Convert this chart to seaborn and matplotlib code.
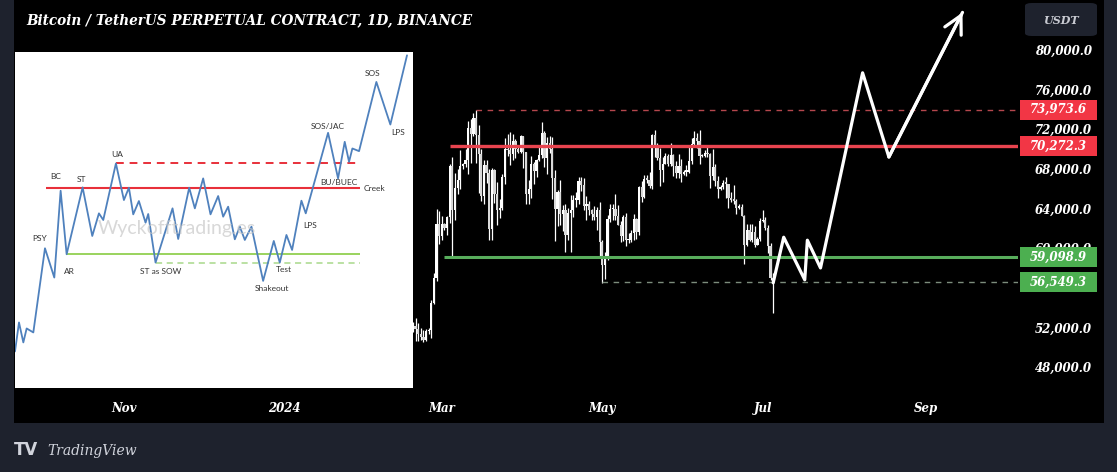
import pandas as pd
import numpy as np
import seaborn as sns
import matplotlib.pyplot as plt
import matplotlib.transforms as mtransforms
from matplotlib.patches import Rectangle, FancyBboxPatch

# BTC/USDT daily candles visible right of the inset, 2024-02-19 .. 2024-07-05
candle_start = '2024-02-19'
first_open = 51800
closes = [52100, 51800, 51300, 51000, 50700, 51600, 51700, 54500, 57000, 62400, 61200,
          62400, 62000, 63100, 68300, 63800, 66100, 66900, 68300, 68500, 68900, 72100,
          71500, 73100, 71400, 69500, 65300, 68400, 67600, 61900, 67900, 65500, 63800,
          64100, 67200, 70000, 69900, 69500, 70800, 70000, 69700, 71300,
          69700, 65500, 66000, 68500, 67800, 68900, 69400, 71600, 69100, 70600, 70000,
          67100, 63900, 65700, 63400, 63800, 61300, 63500, 63800, 64900, 64900, 66800,
          66400, 64300, 64500, 63800, 63400, 63100, 63800, 60600,
          58300, 59100, 62900, 63900, 64000, 63200, 62300, 61200, 63100, 60800, 60800,
          61500, 62900, 61600, 66200, 65200, 67000, 66900, 66300, 71400, 70100, 69100,
          67900, 68500, 69300, 68500, 69400, 68300, 67600, 68300, 67500,
          67700, 67700, 68800, 70500, 71100, 70800, 69300, 69300, 69600, 69500, 67300,
          68200, 66800, 66000, 66200, 66600, 66500, 65100, 64900, 64800, 64100, 64200,
          63200, 60300, 61800, 60800, 61600, 60300, 60900, 62700,
          62800, 62000, 60200, 57000, 56700]
highs = [52500, 52950, 52400, 51900, 51700, 51800, 51900, 54800, 57500, 64000, 63700,
         63200, 62500, 63200, 68500, 69200, 67600, 68000, 69900, 68600, 70000, 72800,
         73000, 73600, 73900, 72400, 70000, 68900, 68900, 68000, 68100, 68000, 66700,
         65000, 67500, 71100, 71500, 71700, 71500, 71000, 70300, 71400,
         71300, 69700, 66900, 69300, 68700, 69000, 70300, 72700, 71800, 71200, 71300,
         71200, 67900, 65900, 66900, 64400, 64500, 64100, 65400, 65400, 65700, 67200,
         67200, 67100, 65300, 64800, 64000, 64300, 64200, 64700,
         60800, 59600, 63300, 64500, 64500, 65500, 64400, 62700, 63300, 63500, 61500,
         61800, 63400, 63000, 66300, 66800, 67400, 67400, 67700, 71500, 71900, 70600,
         70100, 69200, 69600, 69500, 70600, 69500, 68800, 69500, 69000,
         67900, 68400, 70200, 71100, 71800, 71600, 71900, 69500, 69900, 70200, 69600,
         70000, 68500, 67300, 66400, 66900, 67200, 66500, 65700, 66400, 65000, 64500,
         64500, 63300, 62400, 62400, 62400, 62200, 61100, 63000,
         63800, 63100, 62300, 60500, 57500]
lows = [51500, 50600, 50600, 50700, 50500, 50600, 51300, 50900, 54400, 56700, 60400,
        60800, 61800, 61300, 62500, 59000, 62800, 65500, 66000, 68000, 68200, 67500,
        68600, 71300, 68600, 65600, 64800, 64500, 66600, 60800, 60800, 64600, 62300,
        63000, 63800, 66500, 69300, 68400, 68900, 69100, 69600, 69600,
        68100, 64500, 64500, 65100, 66500, 67200, 68800, 69100, 68200, 67500, 69600,
        65000, 60700, 62200, 62300, 61700, 59600, 60800, 59600, 63100, 64200, 64500,
        65800, 63800, 62800, 63300, 62800, 62800, 61800, 59200,
        56500, 56900, 58800, 62600, 62800, 62800, 62300, 60600, 60700, 60200, 60500,
        60600, 60800, 60900, 61300, 64700, 65100, 66600, 66100, 66000, 69200, 68900,
        66300, 66700, 68500, 68300, 68300, 67300, 67100, 67100, 66700,
        67400, 67300, 67600, 68500, 70400, 70100, 68500, 69200, 69200, 69200, 66100,
        66900, 66300, 65100, 65900, 66000, 65100, 64100, 64700, 64500, 63400, 63900,
        63200, 58400, 60200, 60700, 60600, 60100, 60300, 60700,
        62600, 61800, 59500, 56800, 53500]

# hand-drawn projection after the last candle
proj_dates = ['2024-07-05', '2024-07-09', '2024-07-17', '2024-07-18', '2024-07-23',
              '2024-08-08', '2024-08-18', '2024-09-15']
proj_prices = [56500, 61100, 56800, 60800, 58000, 77700, 69200, 83800]

# horizontal levels
level_values = [73973.6, 70272.3, 59098.9, 56549.3]
level_starts = ['2024-03-14', '2024-03-04', '2024-03-02', '2024-05-01']

price_ticks = [48000, 52000, 60000, 64000, 68000, 72000, 76000, 80000]
date_ticks = ['2023-11-01', '2024-01-01', '2024-03-01', '2024-05-01', '2024-07-01', '2024-09-01']
date_labels = ['Nov', '2024', 'Mar', 'May', 'Jul', 'Sep']

# Wyckoff accumulation schematic shown in the inset (schematic units)
wy_x = [0, 12, 25, 35, 55, 90, 118, 137, 155, 203, 232, 252, 265, 303, 327, 342, 355,
        372, 392, 400, 422, 473, 490, 523, 540, 565, 587, 610, 625, 640, 660, 675, 690,
        710, 745, 777, 795, 815, 832, 860, 873, 940, 970, 990, 1003, 1013, 1033, 1085,
        1127, 1177]
wy_y = [110, 197, 137, 179, 167, 420, 332, 593, 402, 603, 457, 525, 505, 675, 565, 602,
        522, 562, 497, 523, 377, 540, 448, 602, 540, 630, 522, 577, 515, 545, 447, 485,
        445, 485, 322, 442, 377, 460, 415, 563, 525, 767, 630, 740, 680, 720, 712, 920,
        792, 1000]
wy_levels = [677, 602, 402, 377]
wy_level_starts = [303, 92, 155, 422]
wy_level_end = 1035
wy_labels = ['PSY', 'BC', 'ST', 'UA', 'AR', 'ST as SOW', 'Shakeout', 'Test', 'LPS',
             'SOS/JAC', 'BU/BUEC', 'Creek', 'SOS', 'LPS']

# ---------------------------------------------------------------------------
sns.set_theme(style='dark', rc={'axes.facecolor': 'black', 'figure.facecolor': '#1e222d'})
plt.rcParams['font.family'] = ['DejaVu Serif', 'DejaVu Sans']
serif = dict(family='DejaVu Serif', weight='bold', style='italic')

W, H = 1117, 472
fig = plt.figure(figsize=(W / 100, H / 100), dpi=100)
fig.patches.append(Rectangle((14 / W, 49 / H), 1090 / W, 423 / H, transform=fig.transFigure,
                             facecolor='black', edgecolor='none', zorder=-5))

ax = fig.add_axes([14 / W, 77 / H, 1004 / W, 395 / H], zorder=1)
ax.set_facecolor('black')
for s in ax.spines.values():
    s.set_visible(False)

day0 = pd.Timestamp('2024-01-01')
xlim = (day0 - pd.Timedelta(days=102.7), day0 + pd.Timedelta(days=279.1))

# candles
dates = pd.date_range(candle_start, periods=len(closes), freq='D')
opens = [first_open] + closes[:-1]
c = np.array(closes, float)
o = np.array(opens, float)
up = c >= o
ax.vlines(dates, lows, highs, color='white', lw=0.9, zorder=3)
body_lo = np.minimum(o, c)
body_h = np.maximum(np.abs(c - o), 150)
ax.bar(dates, body_h, bottom=body_lo, width=0.85,
       color=np.where(up, '#ffffff', '#d9d9d9'), edgecolor='none', zorder=3)

# levels
lvl_style = [dict(color='#b5474d', lw=1.0, ls=(0, (4, 4))),
             dict(color='#e8444f', lw=2.4, ls='-'),
             dict(color='#58ad5c', lw=2.2, ls='-'),
             dict(color='#7c8c7c', lw=1.0, ls=(0, (4, 4)))]
for v, st, sty in zip(level_values, level_starts, lvl_style):
    ax.hlines(v, pd.Timestamp(st), pd.Timestamp('2025-01-01'), zorder=4, **sty)

# projection
proj = pd.DataFrame({'date': pd.to_datetime(proj_dates), 'price': proj_prices})
sns.lineplot(data=proj, x='date', y='price', ax=ax, color='white', lw=2.3,
             estimator=None, sort=False, zorder=6)
ax.annotate('', xy=(proj['date'].iloc[-1], proj_prices[-1]),
            xytext=(proj['date'].iloc[-2], proj_prices[-2]),
            arrowprops=dict(arrowstyle='->,head_length=1.05,head_width=0.55',
                            lw=2.3, color='white', shrinkA=0, shrinkB=0), zorder=6)

ax.set_xlim(*xlim)
ax.set_ylim(45172, 85050)

# axes ticks
ax.set_xlabel('')
ax.set_ylabel('')
ax.set_xticks(pd.to_datetime(date_ticks))
ax.set_xticklabels(date_labels, color='white', fontsize=8.5, **serif)
ax.yaxis.tick_right()
ax.set_yticks(price_ticks)
ax.set_yticklabels([f'{v:,.1f}' for v in price_ticks], color='white', fontsize=8.5, **serif)
ax.tick_params(axis='both', length=0)
ax.tick_params(axis='y', pad=12)
ax.tick_params(axis='x', pad=5)
ax.grid(False)

# price labels on the scale
bt = mtransforms.blended_transform_factory(ax.transAxes, ax.transData)
box_colors = ['#f23645', '#f23645', '#4caf50', '#4caf50']
for v, col in zip(level_values, box_colors):
    ax.add_patch(Rectangle((1006 / 1004, v - 1010), 77 / 1004, 2020, transform=bt,
                           facecolor=col, edgecolor='none', clip_on=False, zorder=10))
    ax.text((1006 + 38.5) / 1004, v, f'{v:,.1f}', transform=bt, ha='center', va='center',
            color='white', fontsize=8.5, zorder=11, clip_on=False, **serif)

# title, currency box, logo
fig.text(26 / W, 1 - 20 / H, 'Bitcoin / TetherUS PERPETUAL CONTRACT, 1D, BINANCE',
         color='white', fontsize=9.8, va='center', ha='left', **serif)
fig.patches.append(FancyBboxPatch((1025 / W, 1 - 36 / H), 72 / W, 33 / H,
                                  boxstyle='round,pad=0,rounding_size=0.006',
                                  transform=fig.transFigure, facecolor='#1e222d',
                                  edgecolor='none', zorder=5))
fig.text(1061 / W, 1 - 20 / H, 'USDT', color='#c9cbd2', fontsize=8, ha='center',
         va='center', zorder=6, **serif)
fig.text(14 / W, 1 - 450 / H, 'TV', color='#d1d4dc', fontsize=12, ha='left', va='center',
         family='DejaVu Sans', weight='heavy')
fig.text(47 / W, 1 - 451 / H, 'TradingView', color='#d1d4dc', fontsize=10, ha='left',
         va='center', family='DejaVu Serif', style='italic')

# inset: Wyckoff schematic
ins = fig.add_axes([15 / W, 84 / H, 398 / W, 336 / H], zorder=5)
ins.set_facecolor('white')
ins.set_xlim(0, 1195)
ins.set_ylim(0, 1010)
ins.set_xticks([])
ins.set_yticks([])
for s in ins.spines.values():
    s.set_visible(False)
ins.text(485, 480, 'Wyckofftrading.es', color='#c8c8c8', alpha=0.7, fontsize=14,
         ha='center', va='center', family='Lato')
wy_style = [dict(color='#e8303a', lw=1.4, ls=(0, (4, 3))),
            dict(color='#e8303a', lw=1.5, ls='-'),
            dict(color='#92d050', lw=1.3, ls='-'),
            dict(color='#a8d88a', lw=1.1, ls=(0, (4, 3)))]
for v, st, sty in zip(wy_levels, wy_level_starts, wy_style):
    ins.hlines(v, st, wy_level_end, **sty)
wy = pd.DataFrame({'x': wy_x, 'y': wy_y})
sns.lineplot(data=wy, x='x', y='y', ax=ins, color='#4f81bd', lw=1.3,
             estimator=None, sort=False)
ins.set_xlabel('')
ins.set_ylabel('')
label_pos = [(75, 448), (121, 637), (201, 626), (306, 702), (163, 351), (437, 349),
             (770, 300), (806, 356), (885, 488), (940, 787), (973, 617), (1078, 601),
             (1073, 946), (1150, 769)]
for t, (px, py) in zip(wy_labels, label_pos):
    ins.text(px, py, t, fontsize=6, color='#333333', ha='center', va='center',
             family='Lato')

fig.savefig('out.png', dpi=100, facecolor=fig.get_facecolor())
